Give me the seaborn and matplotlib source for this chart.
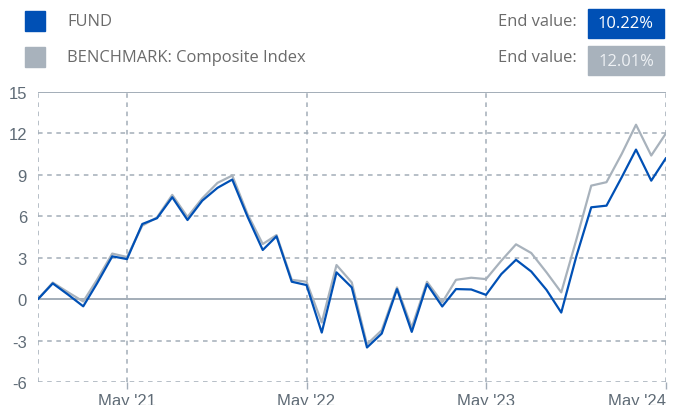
import numpy as np
import pandas as pd
import matplotlib
matplotlib.use("Agg")
import matplotlib.pyplot as plt
from matplotlib.patches import Rectangle
import seaborn as sns

# ---- data (cumulative return, %) ----
months = pd.date_range("2020-11-01", "2024-05-01", freq="MS")
fund = [0, 1.14, 0.33, -0.52, 1.14, 3.1, 2.9, 5.44, 5.86, 7.38, 5.73, 7.13, 8.06, 8.66,
        5.98, 3.56, 4.55, 1.26, 1.02, -2.42, 1.94, 0.85, -3.5, -2.49, 0.73, -2.37,
        1.09, -0.53, 0.73, 0.7, 0.31, 1.81, 2.85, 2.0, 0.67, -0.97, 3.14, 6.65,
        6.77, 8.83, 10.83, 8.58, 10.22]
bench = [0, 1.2, 0.5, -0.17, 1.4, 3.3, 3.05, 5.32, 5.92, 7.55, 5.95, 7.3, 8.42, 8.95,
         6.17, 3.99, 4.64, 1.4, 1.26, -1.69, 2.47, 1.21, -3.27, -2.25, 0.85, -2.05,
         1.26, -0.24, 1.4, 1.55, 1.45, 2.78, 3.97, 3.34, 1.94, 0.49, 4.35, 8.22,
         8.47, 10.52, 12.63, 10.4, 12.01]
series_names = ["FUND", "BENCHMARK: Composite Index"]
yticks = [-6, -3, 0, 3, 6, 9, 12, 15]
xtick_dates = pd.to_datetime(["2021-05-01", "2022-05-01", "2023-05-01", "2024-05-01"])

BLUE = "#0050B5"
GREY = "#A8B2BC"
GRID = "#A3ADB8"
TXT = "#5F6B76"

df = pd.concat([
    pd.DataFrame({"date": months, "value": bench, "series": series_names[1]}),
    pd.DataFrame({"date": months, "value": fund, "series": series_names[0]}),
])

sns.set_theme(style="white")
fig = plt.figure(figsize=(6.73, 4.06), dpi=100)
ax = fig.add_axes([38 / 673, 1 - 383 / 406, 628 / 673, 290 / 406])

sns.lineplot(data=df, x="date", y="value", hue="series", ax=ax, legend=False,
             palette={series_names[0]: BLUE, series_names[1]: GREY},
             hue_order=[series_names[1], series_names[0]], linewidth=1.6, zorder=3)

ax.set_xlim(months[0], months[-1])
ax.set_ylim(-6, 15)
ax.set_yticks(yticks)
ax.set_yticklabels([str(v) for v in yticks], family="Liberation Sans", fontsize=12, color=TXT)
ax.set_xticks(xtick_dates)
labels = ax.set_xticklabels([d.strftime("May '%y") for d in xtick_dates],
                            family="Liberation Sans", fontsize=12, color=TXT)
labels[-1].set_ha("right")
ax.set_xlabel(""); ax.set_ylabel("")

# grid: dashed, zero and top solid
dash = (0, (3, 3))
for v in yticks:
    if v in (0, 15):
        ax.axhline(v, color=GRID, lw=1.4, zorder=1)
    else:
        ax.axhline(v, color=GRID, lw=1.1, ls=dash, zorder=1)
for d in xtick_dates:
    ax.axvline(d, color=GRID, lw=1.1, ls=dash, zorder=1)
ax.axvline(months[0], color=GRID, lw=1.1, ls=dash, zorder=1)
for s in ax.spines.values():
    s.set_visible(False)
ax.tick_params(axis="y", length=0, pad=8)
ax.tick_params(axis="x", length=5, width=1, color=GRID, pad=3, direction="out")
ax.xaxis.set_tick_params(bottom=True)

# header legend
for i, (name, col, vals) in enumerate([(series_names[0], BLUE, fund),
                                       (series_names[1], GREY, bench)]):
    yc = 22 + i * 36
    fig.patches.append(Rectangle((25 / 673, 1 - (yc + 10) / 406), 20 / 673, 20 / 406,
                                 transform=fig.transFigure, color=col, figure=fig))
    fig.text(67 / 673, 1 - yc / 406, name, ha="left", va="center",
             family="Open Sans", fontsize=11.9, color="#6B6B6B")
    fig.text(577 / 673, 1 - yc / 406, "End value:", ha="right", va="center",
             family="Open Sans", fontsize=11.9, color="#6B6B6B")
    top = 10 + i * 37
    fig.patches.append(Rectangle((588 / 673, 1 - (top + 29) / 406), 76 / 673, 29 / 406,
                                 transform=fig.transFigure, color=col, figure=fig))
    fig.text(626 / 673, 1 - (top + 14.5) / 406, f"{vals[-1]:.2f}%", ha="center",
             va="center", family="Open Sans", fontsize=11.9,
             color="white" if i == 0 else "#EEF1F4")

fig.savefig("out.png", dpi=100)
